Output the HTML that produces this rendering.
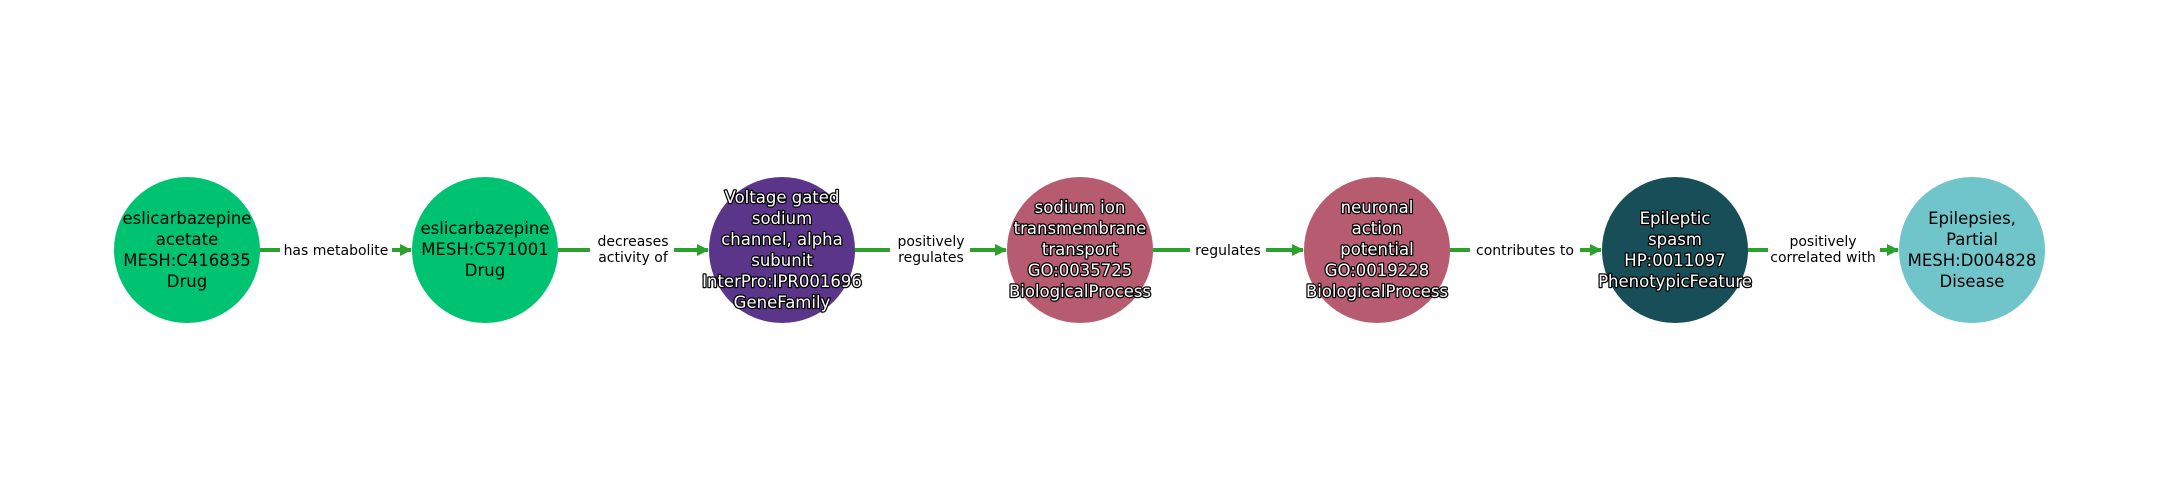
<!DOCTYPE html>
<html><head><meta charset="utf-8"><style>
html,body{margin:0;padding:0;background:#fff;}
svg{display:block;}
.n{font-family:"DejaVu Sans","Liberation Sans",sans-serif;font-size:16.5px;text-anchor:middle;}
.w{fill:#fff;stroke:#000;stroke-width:2.5px;paint-order:stroke;stroke-linejoin:round;}
.e{font-family:"DejaVu Sans","Liberation Sans",sans-serif;font-size:14px;text-anchor:middle;fill:#000;}
</style></head><body>
<svg width="2160" height="500" viewBox="0 0 2160 500" xmlns="http://www.w3.org/2000/svg">
<defs><marker id="a" markerWidth="12" markerHeight="12" refX="11" refY="6" orient="auto" markerUnits="userSpaceOnUse"><path d="M0,0 L12,6 L0,12 Z" fill="#2ca02c"/></marker></defs>
<g stroke="#2ca02c" stroke-width="4" marker-end="url(#a)">
<line x1="260" y1="250" x2="411" y2="250"/>
<line x1="558" y1="250" x2="708" y2="250"/>
<line x1="855" y1="250" x2="1006" y2="250"/>
<line x1="1153" y1="250" x2="1303" y2="250"/>
<line x1="1450" y1="250" x2="1601" y2="250"/>
<line x1="1748" y1="250" x2="1898" y2="250"/>
</g>
<g fill="#fff">
<rect x="280" y="238" width="112" height="24"/>
<rect x="590" y="228" width="84" height="42"/>
<rect x="890" y="228" width="80" height="42"/>
<rect x="1190" y="238" width="76" height="24"/>
<rect x="1470" y="238" width="110" height="24"/>
<rect x="1768" y="228" width="112" height="42"/>
</g>
<text class="e" x="336" y="255">has metabolite</text>
<text class="e" x="633" y="246">decreases</text><text class="e" x="633" y="262">activity of</text>
<text class="e" x="931" y="246">positively</text><text class="e" x="931" y="262">regulates</text>
<text class="e" x="1228" y="255">regulates</text>
<text class="e" x="1525" y="255">contributes to</text>
<text class="e" x="1823" y="246">positively</text><text class="e" x="1823" y="262">correlated with</text>
<circle cx="187" cy="250" r="73" fill="#00c371"/>
<circle cx="485" cy="250" r="73" fill="#00c371"/>
<circle cx="782" cy="250" r="73" fill="#5b3589"/>
<circle cx="1080" cy="250" r="73" fill="#b75b70"/>
<circle cx="1377" cy="250" r="73" fill="#b75b70"/>
<circle cx="1675" cy="250" r="73" fill="#184e57"/>
<circle cx="1972" cy="250" r="73" fill="#6fc5c9"/>
<text class="n"><tspan x="187" y="224">eslicarbazepine</tspan><tspan x="187" y="245">acetate</tspan><tspan x="187" y="266">MESH:C416835</tspan><tspan x="187" y="287">Drug</tspan></text>
<text class="n"><tspan x="485" y="234">eslicarbazepine</tspan><tspan x="485" y="255">MESH:C571001</tspan><tspan x="485" y="276">Drug</tspan></text>
<text class="n w"><tspan x="782" y="203">Voltage gated</tspan><tspan x="782" y="224">sodium</tspan><tspan x="782" y="245">channel, alpha</tspan><tspan x="782" y="266">subunit</tspan><tspan x="782" y="287">InterPro:IPR001696</tspan><tspan x="782" y="308">GeneFamily</tspan></text>
<text class="n w"><tspan x="1080" y="213">sodium ion</tspan><tspan x="1080" y="234">transmembrane</tspan><tspan x="1080" y="255">transport</tspan><tspan x="1080" y="276">GO:0035725</tspan><tspan x="1080" y="297">BiologicalProcess</tspan></text>
<text class="n w"><tspan x="1377" y="213">neuronal</tspan><tspan x="1377" y="234">action</tspan><tspan x="1377" y="255">potential</tspan><tspan x="1377" y="276">GO:0019228</tspan><tspan x="1377" y="297">BiologicalProcess</tspan></text>
<text class="n w"><tspan x="1675" y="224">Epileptic</tspan><tspan x="1675" y="245">spasm</tspan><tspan x="1675" y="266">HP:0011097</tspan><tspan x="1675" y="287">PhenotypicFeature</tspan></text>
<text class="n"><tspan x="1972" y="224">Epilepsies,</tspan><tspan x="1972" y="245">Partial</tspan><tspan x="1972" y="266">MESH:D004828</tspan><tspan x="1972" y="287">Disease</tspan></text>
</svg>
</body></html>
